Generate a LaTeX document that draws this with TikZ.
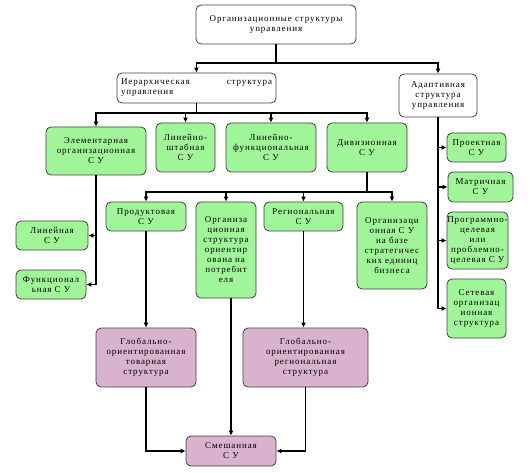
\documentclass[tikz,border=0pt]{standalone}
\usepackage{fontspec}
\setmainfont{Liberation Serif}[LetterSpace=10]
\usetikzlibrary{arrows.meta}
\definecolor{boxgreen}{RGB}{160,245,152}
\definecolor{boxpink}{RGB}{217,178,206}
\tikzset{
    box/.style={draw=black!75, line width=0.8pt, rounded corners=5pt, align=center,
        inner sep=0pt, font=\fontsize{9}{10}\selectfont},
    wbox/.style={box, fill=white},
    gbox/.style={box, fill=boxgreen},
    pbox/.style={box, fill=boxpink},
    arr/.style={line width=1.6pt, -{Latex[length=5pt,width=5pt]}}
}

\begin{document}
\begin{tikzpicture}[x=1pt,y=-1pt]
            \useasboundingbox (0,0) rectangle (530,473);

            \coordinate (b1) at (0,63);
            \coordinate (b2) at (0,113);
            \coordinate (b3) at (0,192);

            \node[wbox, minimum width=160pt, minimum height=39pt] (org) at (276,24.5) {Организационные структуры\\управления};
            \node[wbox, minimum width=159pt, minimum height=30pt, align=left, text width=151pt] (hier) at (196.5,88) {Иерархическая\hfill структура\\управления};
            \node[wbox, minimum width=78pt, minimum height=43pt] (adapt) at (438,95.5) {Адаптивная\\структура\\управления};

            \node[gbox, minimum width=100pt, minimum height=48pt] (elem) at (96,151) {Элементарная\\организационная\\С У};
            \node[gbox, minimum width=59pt, minimum height=49pt] (lsht) at (185.5,147.5) {Линейно-\\штабная\\С У};
            \node[gbox, minimum width=90pt, minimum height=49pt] (lfun) at (271,147.5) {Линейно-\\функциональная\\С У};
            \node[gbox, minimum width=80pt, minimum height=49pt] (div) at (367,147.5) {Дивизионная\\С У};

            \node[gbox, minimum width=59pt, minimum height=29pt] (proj) at (476.5,147.5) {Проектная\\С У};
            \node[gbox, minimum width=65pt, minimum height=30pt] (matr) at (480.5,187) {Матричная\\С У};
            \node[gbox, minimum width=61pt, minimum height=57pt] (prog) at (477.5,240.5) {Программно-\\целевая\\или\\проблемно-\\целевая С У};
            \node[gbox, minimum width=59pt, minimum height=59pt] (setv) at (476.5,308.5) {Сетевая\\организац\\ионная\\структура};

            \node[gbox, minimum width=72pt, minimum height=29pt] (lin) at (52,235.5) {Линейная\\С У};
            \node[gbox, minimum width=70pt, minimum height=29pt] (func) at (51,284.5) {Функционал\\ьная С У};

            \node[gbox, minimum width=80pt, minimum height=29pt] (prod) at (146,216.5) {Продуктовая\\С У};
            \node[gbox, minimum width=60pt, minimum height=96pt] (potr) at (226,250) {Организа\\ционная\\структура\\ориентир\\ована на\\потребит\\еля};
            \node[gbox, minimum width=79pt, minimum height=29pt] (reg) at (303.5,216.5) {Региональная\\С У};
            \node[gbox, minimum width=70pt, minimum height=87pt] (seb) at (392,245.5) {Организаци\\онная С У\\на базе\\стратегичес\\ких единиц\\бизнеса};

            \node[pbox, minimum width=100pt, minimum height=59pt] (tov) at (146,357.5) {Глобально-\\ориентированная\\товарная\\структура};
            \node[pbox, minimum width=125pt, minimum height=59pt] (rstr) at (305.5,357.5) {Глобально-\\ориентированная\\региональная\\структура};
            \node[pbox, minimum width=90pt, minimum height=30pt] (mix) at (231,451) {Смешанная\\С У};

            \foreach \n in {hier,adapt}{
                \draw[arr] (org.south) |- (b1 -| \n.north) -- (\n.north);
            }
            \foreach \n in {elem,lsht,lfun,div}{
                \draw[arr] (hier.south) |- (b2 -| \n.north) -- (\n.north);
            }
            \foreach \n in {lin,func}{
                \draw[arr] (elem.south) |- (\n.east);
            }
            \foreach \n in {proj,matr,prog,setv}{
                \draw[arr] (adapt.south) |- (\n.west);
            }
            \foreach \n in {prod,potr,reg,seb}{
                \draw[arr] (div.south) |- (b3 -| \n.north) -- (\n.north);
            }

            \draw[arr] (prod.south) -- (prod.south |- tov.north);
            \draw[arr] (reg.south) -- (reg.south |- rstr.north);
            \draw[arr] (potr.south -| mix.north) -- (mix.north);
            \draw[arr] (tov.south) |- (mix.west);
            \draw[arr] (rstr.south) |- (mix.east);
        \end{tikzpicture}
\end{document}
